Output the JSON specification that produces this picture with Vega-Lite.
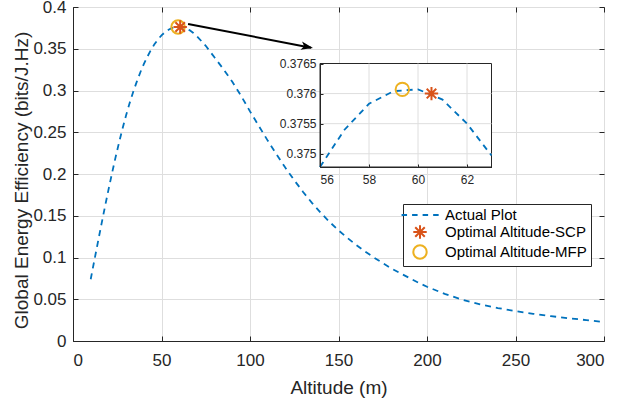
{
  "$schema": "https://vega.github.io/schema/vega-lite/v6.json",
  "width": 531,
  "height": 334,
  "autosize": "none",
  "padding": {"left": 73, "top": 7, "right": 14, "bottom": 58},
  "background": "white",
  "config": {
    "font": "Liberation Sans",
    "view": {"stroke": "#262626", "strokeWidth": 1},
    "axis": {
      "domainColor": "#262626", "tickColor": "#262626", "labelColor": "#262626", "titleColor": "#262626",
      "labelFont": "Liberation Sans", "titleFont": "Liberation Sans", "titleFontWeight": "normal",
      "gridColor": "#dedede", "gridWidth": 1
    }
  },
  "datasets": {
    "curve": [
      {"alt": 10, "gee": 0.0740}, {"alt": 12, "gee": 0.0959}, {"alt": 14, "gee": 0.1176}, {"alt": 16, "gee": 0.1391},
      {"alt": 18, "gee": 0.1602}, {"alt": 20, "gee": 0.1807}, {"alt": 22, "gee": 0.2005}, {"alt": 24, "gee": 0.2196},
      {"alt": 26, "gee": 0.2376}, {"alt": 28, "gee": 0.2546}, {"alt": 30, "gee": 0.2704}, {"alt": 32, "gee": 0.2849},
      {"alt": 34, "gee": 0.2982}, {"alt": 36, "gee": 0.3103}, {"alt": 38, "gee": 0.3216}, {"alt": 40, "gee": 0.3315},
      {"alt": 42, "gee": 0.3404}, {"alt": 44, "gee": 0.3484}, {"alt": 46, "gee": 0.3553}, {"alt": 48, "gee": 0.3612},
      {"alt": 50, "gee": 0.3660}, {"alt": 52, "gee": 0.3699}, {"alt": 54, "gee": 0.3727}, {"alt": 55, "gee": 0.3739},
      {"alt": 56, "gee": 0.37478}, {"alt": 57, "gee": 0.37540}, {"alt": 58, "gee": 0.37583}, {"alt": 59, "gee": 0.37604},
      {"alt": 60, "gee": 0.37607}, {"alt": 61, "gee": 0.37590}, {"alt": 62, "gee": 0.37550}, {"alt": 63, "gee": 0.37497},
      {"alt": 64, "gee": 0.37425}, {"alt": 66, "gee": 0.3720}, {"alt": 68, "gee": 0.3689}, {"alt": 70, "gee": 0.3650},
      {"alt": 75, "gee": 0.3535}, {"alt": 80, "gee": 0.3395}, {"alt": 85, "gee": 0.3255}, {"alt": 90, "gee": 0.3105},
      {"alt": 95, "gee": 0.2935}, {"alt": 100, "gee": 0.2750}, {"alt": 105, "gee": 0.2575}, {"alt": 110, "gee": 0.2400},
      {"alt": 115, "gee": 0.2235}, {"alt": 120, "gee": 0.2075}, {"alt": 125, "gee": 0.1925}, {"alt": 130, "gee": 0.1785},
      {"alt": 135, "gee": 0.1655}, {"alt": 140, "gee": 0.1535}, {"alt": 145, "gee": 0.1425}, {"alt": 150, "gee": 0.1325},
      {"alt": 155, "gee": 0.1235}, {"alt": 160, "gee": 0.1150}, {"alt": 165, "gee": 0.1072}, {"alt": 170, "gee": 0.1000},
      {"alt": 175, "gee": 0.0933}, {"alt": 180, "gee": 0.0868}, {"alt": 185, "gee": 0.0810}, {"alt": 190, "gee": 0.0755},
      {"alt": 195, "gee": 0.0700}, {"alt": 200, "gee": 0.0650}, {"alt": 210, "gee": 0.0565}, {"alt": 220, "gee": 0.0495},
      {"alt": 230, "gee": 0.0440}, {"alt": 240, "gee": 0.0395}, {"alt": 250, "gee": 0.0358}, {"alt": 260, "gee": 0.0326},
      {"alt": 270, "gee": 0.0298}, {"alt": 280, "gee": 0.0273}, {"alt": 290, "gee": 0.0250}, {"alt": 300, "gee": 0.0228}
    ],
    "opt": [
      {"alt": 59.36, "gee": 0.37607, "series": "Optimal Altitude-MFP"},
      {"alt": 60.55, "gee": 0.37600, "series": "Optimal Altitude-SCP"}
    ],
    "arrow": [{"alt": 65, "gee": 0.3797, "alt2": 134.5, "gee2": 0.3512}],
    "arrowhead": [{"alt": 135.6, "gee": 0.3510}],
    "insetbox": [{"alt": 56, "alt2": 63, "gee": 0.37478, "gee2": 0.3765}],
    "insetvgrid": [
      {"alt": 58, "gee": 0.37478, "gee2": 0.3765},
      {"alt": 60, "gee": 0.37478, "gee2": 0.3765},
      {"alt": 62, "gee": 0.37478, "gee2": 0.3765}
    ],
    "insethgrid": [
      {"gee": 0.375, "alt": 56, "alt2": 63},
      {"gee": 0.3755, "alt": 56, "alt2": 63},
      {"gee": 0.376, "alt": 56, "alt2": 63}
    ]
  },
  "layer": [
    {
      "layer": [
        {
          "data": {"name": "curve"},
          "mark": {"type": "line", "color": "#0072BD", "strokeWidth": 1.8, "strokeDash": [6, 5]},
          "encoding": {
            "x": {
              "field": "alt", "type": "quantitative",
              "scale": {"domain": [0, 300], "nice": false, "zero": false},
              "axis": {
                "orient": "bottom", "values": [0, 50, 100, 150, 200, 250, 300], "title": "Altitude (m)",
                "labelFontSize": 17, "titleFontSize": 19, "tickSize": -5, "labelPadding": 16, "grid": true,
                "titleY": 52, "titleBaseline": "alphabetic"
              }
            },
            "y": {
              "field": "gee", "type": "quantitative",
              "scale": {"domain": [0, 0.4], "nice": false, "zero": false},
              "axis": {
                "orient": "left", "values": [0, 0.05, 0.1, 0.15, 0.2, 0.25, 0.3, 0.35, 0.4], "format": ".2~f",
                "title": "Global Energy Efficiency (bits/J.Hz)",
                "labelFontSize": 17, "titleFontSize": 19, "tickSize": -5, "labelPadding": 12, "grid": true,
                "titleX": -46, "titleY": 173, "titleBaseline": "alphabetic", "titleAngle": -90
              }
            }
          }
        },
        {
          "data": {"name": "arrow"},
          "mark": {"type": "rule", "color": "black", "strokeWidth": 2},
          "encoding": {
            "x": {"field": "alt", "type": "quantitative"},
            "y": {"field": "gee", "type": "quantitative"},
            "x2": {"field": "alt2"},
            "y2": {"field": "gee2"}
          }
        },
        {
          "data": {"name": "arrowhead"},
          "mark": {"type": "point", "shape": "M0,0L-2,-0.7L-1.5,0L-2,0.7Z", "filled": true, "color": "black", "opacity": 1, "angle": 11, "size": 144},
          "encoding": {
            "x": {"field": "alt", "type": "quantitative"},
            "y": {"field": "gee", "type": "quantitative"}
          }
        },
        {
          "data": {"name": "opt"},
          "mark": {"type": "point", "filled": false, "strokeWidth": 2, "size": 180, "opacity": 1},
          "encoding": {
            "x": {"field": "alt", "type": "quantitative"},
            "y": {"field": "gee", "type": "quantitative"},
            "color": {
              "field": "series", "type": "nominal",
              "scale": {"domain": ["Actual Plot", "Optimal Altitude-SCP", "Optimal Altitude-MFP"], "range": ["#0072BD", "#D95319", "#EDB120"]},
              "legend": {
                "title": null, "orient": "none", "legendX": 330, "legendY": 197,
                "labelFontSize": 15, "labelColor": "#000000", "labelFont": "Liberation Sans",
                "symbolSize": 180, "symbolStrokeWidth": 2, "symbolOffset": 6, "labelOffset": 17, "padding": 3, "rowPadding": -2,
                "strokeColor": "#262626", "fillColor": "white"
              }
            },
            "shape": {
              "field": "series", "type": "nominal",
              "scale": {"domain": ["Actual Plot", "Optimal Altitude-SCP", "Optimal Altitude-MFP"], "range": ["M-2.75,0H-1.93M-1.18,0H-0.36M0.39,0H1.21M1.96,0H2.78", "M0,-1V1M-1,0H1M-0.71,-0.71L0.71,0.71M-0.71,0.71L0.71,-0.71", "circle"]},
              "legend": {
                "title": null, "orient": "none", "legendX": 330, "legendY": 197,
                "labelFontSize": 15, "labelColor": "#000000", "labelFont": "Liberation Sans",
                "symbolSize": 180, "symbolStrokeWidth": 2, "symbolOffset": 6, "labelOffset": 17, "padding": 3, "rowPadding": -2,
                "strokeColor": "#262626", "fillColor": "white"
              }
            }
          }
        }
      ]
    },
    {
      "data": {"name": "arrow"},
      "mark": {"type": "rule", "opacity": 0},
      "encoding": {
        "x": {
          "field": "alt", "type": "quantitative",
          "scale": {"domain": [0, 300], "nice": false, "zero": false},
          "axis": {"orient": "top", "values": [0, 50, 100, 150, 200, 250, 300], "labels": false, "title": null, "domain": false, "grid": false, "tickSize": -5}
        },
        "y": {
          "field": "gee", "type": "quantitative",
          "scale": {"domain": [0, 0.4], "nice": false, "zero": false},
          "axis": {"orient": "right", "values": [0, 0.05, 0.1, 0.15, 0.2, 0.25, 0.3, 0.35, 0.4], "labels": false, "title": null, "domain": false, "grid": false, "tickSize": -5}
        }
      }
    },
    {
      "layer": [
        {
          "data": {"name": "insetbox"},
          "mark": {"type": "rect", "fill": "white", "stroke": "#262626", "strokeWidth": 1},
          "encoding": {
            "x": {
              "field": "alt", "type": "quantitative",
              "scale": {"domain": [56, 63], "range": [247, 418.5], "nice": false, "zero": false},
              "axis": {"orient": "bottom", "offset": -174, "values": [56, 58, 60, 62], "format": "d", "title": null, "labelFontSize": 12, "tickSize": -3, "labelPadding": 10, "grid": false, "zindex": 1}
            },
            "y": {
              "field": "gee", "type": "quantitative",
              "scale": {"domain": [0.37478, 0.3765], "range": [160, 56.5], "nice": false, "zero": false},
              "axis": {"orient": "left", "offset": -247, "values": [0.375, 0.3755, 0.376, 0.3765], "format": ".4~f", "title": null, "labelFontSize": 12, "tickSize": -3, "labelPadding": 7, "grid": false, "zindex": 1}
            },
            "x2": {"field": "alt2"},
            "y2": {"field": "gee2"}
          }
        },
        {
          "data": {"name": "insetvgrid"},
          "mark": {"type": "rule", "color": "#dedede", "strokeWidth": 1},
          "encoding": {
            "x": {"field": "alt", "type": "quantitative"},
            "y": {"field": "gee", "type": "quantitative"},
            "y2": {"field": "gee2"}
          }
        },
        {
          "data": {"name": "insethgrid"},
          "mark": {"type": "rule", "color": "#dedede", "strokeWidth": 1},
          "encoding": {
            "x": {"field": "alt", "type": "quantitative"},
            "x2": {"field": "alt2"},
            "y": {"field": "gee", "type": "quantitative"}
          }
        },
        {
          "data": {"name": "curve"},
          "transform": [{"filter": {"field": "alt", "range": [56, 63]}}],
          "mark": {"type": "line", "color": "#0072BD", "strokeWidth": 1.8, "strokeDash": [6, 5]},
          "encoding": {
            "x": {"field": "alt", "type": "quantitative"},
            "y": {"field": "gee", "type": "quantitative"}
          }
        },
        {
          "data": {"name": "opt"},
          "mark": {"type": "point", "filled": false, "strokeWidth": 2, "size": 180, "opacity": 1},
          "encoding": {
            "x": {"field": "alt", "type": "quantitative"},
            "y": {"field": "gee", "type": "quantitative"},
            "color": {"field": "series", "type": "nominal"},
            "shape": {"field": "series", "type": "nominal"}
          }
        }
      ]
    }
  ],
  "resolve": {"scale": {"x": "independent", "y": "independent"}}
}
